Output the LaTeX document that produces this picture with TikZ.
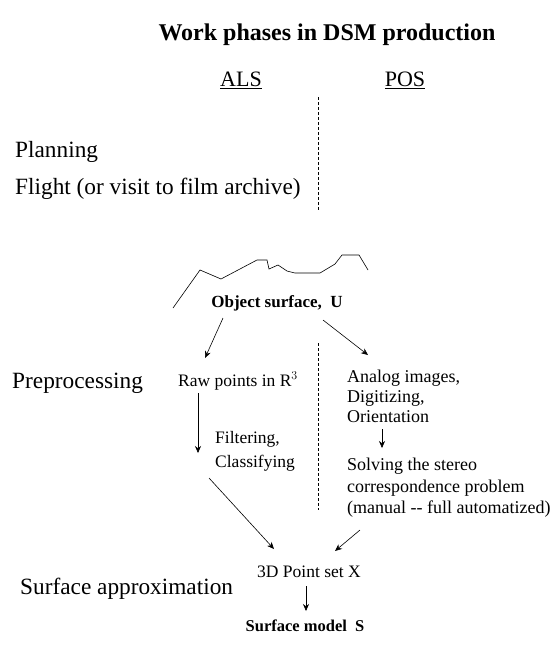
\documentclass[tikz,border=0pt]{standalone}
\usepackage{fontspec}
\setmainfont{Liberation Serif}
\usetikzlibrary{arrows.meta}
\begin{document}
\begin{tikzpicture}[x=1pt,y=-1pt,
  big/.style={font=\fontsize{23.3}{27}\selectfont, inner sep=0pt},
  med/.style={font=\fontsize{17.5}{20}\selectfont, inner sep=0pt},
  arr/.style={-{Stealth[length=7pt,width=6pt]}, line width=0.6pt},
  sep/.style={dash pattern=on 3pt off 2pt, line width=0.6pt}]
\useasboundingbox (0,0) rectangle (553,651);
\fill[white] (0,0) rectangle (553,651);
% headings
\node[big, font=\fontsize{24}{28}\selectfont\bfseries] (title) at (327,35) {Work phases in DSM production};
\node[big, font=\fontsize{22}{26}\selectfont] (als) at (241,80) {\underline{ALS}};
\node[big, font=\fontsize{22}{26}\selectfont] (pos) at (405,80) {\underline{POS}};
\node[big, anchor=west] (plan) at (15,152) {Planning};
\node[big, anchor=west] (flight) at (15,189) {Flight (or visit to film archive)};
\node[big, anchor=west] (pre) at (12,383) {Preprocessing};
\node[big, anchor=west] (sapp) at (20,589) {Surface approximation};
% separators
\coordinate (d1a) at (318,97); \coordinate (d1b) at (318,210);
\coordinate (d2a) at (318,343); \coordinate (d2b) at (318,510);
\draw[sep] (d1a) -- (d1b);
\draw[sep] (d2a) -- (d2b);
% surface
\draw[line width=0.6pt] (173,308) -- (200,270) -- (221,279) -- (257,260) -- (267,260) -- (269,269) -- (278,265) -- (287,271) -- (295,273) -- (320,273) -- (335,264) -- (342,255) -- (359,255) -- (368,270);
\node[med, font=\fontsize{17}{20}\selectfont\bfseries] (obj) at (277,303) {Object surface,\ \ U};
% ALS column
\node[med, anchor=west] (raw) at (178,381) {Raw points in R$^{3}$};
\node[med, anchor=north west, align=left, font=\fontsize{17.5}{24}\selectfont] (filt) at (215,431) {Filtering,\\Classifying};
% POS column
\node[med, anchor=north west, align=left, font=\fontsize{18}{20}\selectfont] (ana) at (347,370) {Analog images,\\Digitizing,\\Orientation};
\node[med, anchor=north west, align=left, font=\fontsize{18}{21.5}\selectfont] (solv) at (347,458) {Solving the stereo\\correspondence problem\\(manual {-}{-} full automatized)};
% bottom
\node[med] (pts) at (309,572) {3D Point set X};
\node[med, font=\fontsize{16.5}{20}\selectfont\bfseries] (smod) at (305,626) {Surface model\ \ S};
% arrows
\coordinate (a1s) at (223,318); \coordinate (a1e) at (205,358);
\coordinate (a2s) at (323,320); \coordinate (a2e) at (368,355);
\coordinate (a3s) at (198,393); \coordinate (a3e) at (198,453);
\coordinate (a4s) at (382,429); \coordinate (a4e) at (382,448);
\coordinate (a5s) at (209,478); \coordinate (a5e) at (274,549);
\coordinate (a6s) at (360,530); \coordinate (a6e) at (335,551);
\coordinate (a7s) at (306,586); \coordinate (a7e) at (306,611);
\draw[arr] (a1s) -- (a1e);
\draw[arr] (a2s) -- (a2e);
\draw[arr] (a3s) -- (a3e);
\draw[arr] (a4s) -- (a4e);
\draw[arr] (a5s) -- (a5e);
\draw[arr] (a6s) -- (a6e);
\draw[arr] (a7s) -- (a7e);
\end{tikzpicture}
\end{document}
